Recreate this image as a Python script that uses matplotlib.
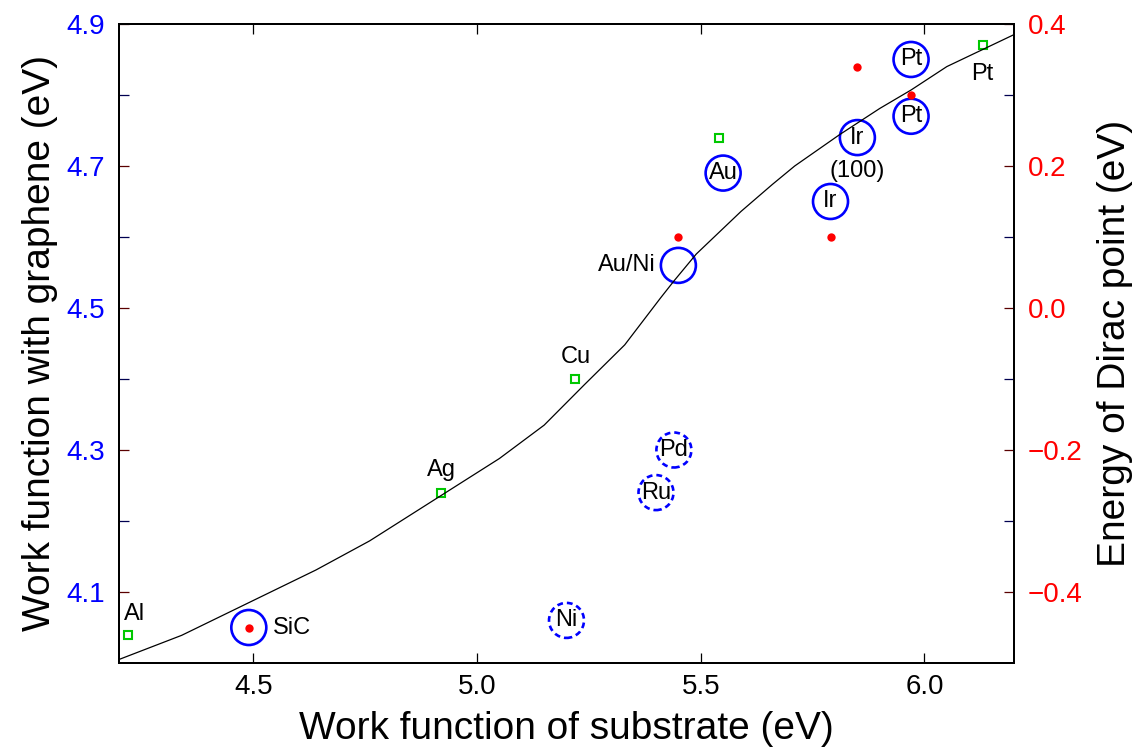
import numpy as np
import matplotlib
matplotlib.use("Agg")
import matplotlib.pyplot as plt
from matplotlib.ticker import FixedLocator

plt.rcParams["font.family"] = ["Liberation Sans", "DejaVu Sans"]

# graphene on substrate (solid circles), left axis
circ_names = ["SiC", "Au/Ni", "Au", "Ir", "Ir", "Pt", "Pt"]
circ_x = [4.49, 5.45, 5.55, 5.79, 5.85, 5.97, 5.97]
circ_y = [4.05, 4.56, 4.69, 4.65, 4.74, 4.85, 4.77]
circ_where = ["right", "left", "in", "in", "in", "in", "in"]

# dashed circles
dash_names = ["Ni", "Ru", "Pd"]
dash_x = [5.20, 5.40, 5.44]
dash_y = [4.06, 4.24, 4.30]

# open green squares
sq_names = ["Al", "Ag", "Cu", "Au", "Pt"]
sq_x = [4.22, 4.92, 5.22, 5.54, 6.13]
sq_y = [4.04, 4.24, 4.40, 4.74, 4.87]

# Dirac point energies, right axis
dirac_x = [4.49, 5.45, 5.79, 5.85, 5.97]
dirac_e = [-0.45, 0.10, 0.10, 0.34, 0.30]

# model curve
curve_x = [4.20, 4.34, 4.49, 4.64, 4.76, 4.93, 5.05, 5.15, 5.24, 5.33, 5.41,
           5.44, 5.49, 5.59, 5.66, 5.71, 5.81, 5.90, 5.97, 6.05, 6.20]
curve_y = [4.005, 4.039, 4.085, 4.131, 4.172, 4.240, 4.288, 4.335, 4.392, 4.448,
           4.514, 4.538, 4.576, 4.636, 4.674, 4.700, 4.744, 4.781, 4.807, 4.840,
           4.885]

blue = "#0000ff"
red = "#ff0000"
green = "#00c800"
major_c = "#5a0000"
minor_c = "#000050"

fig = plt.figure(figsize=(11.37, 7.49), dpi=100)
ax = fig.add_axes([0.1047, 0.1148, 0.7871, 0.8532])
ax2 = ax.twinx()

ax.scatter(circ_x, circ_y, s=635, facecolors="none", edgecolors=blue,
           linewidths=1.9, zorder=2)
ax.scatter(dash_x, dash_y, s=635, facecolors="none", edgecolors=blue,
           linewidths=1.9, linestyle=(0, (2.2, 1.5)), zorder=2)
ax.plot(sq_x, sq_y, ls="none", marker="s", ms=6.3, mfc="none", mec=green,
        mew=1.5, zorder=3)
ax.plot(curve_x, curve_y, color="black", lw=0.9, zorder=4,
        solid_joinstyle="round")
ax2.plot(dirac_x, dirac_e, ls="none", marker="o", ms=6, color=red, mec="none")

fs = 17
for n, x, y, w in zip(circ_names, circ_x, circ_y, circ_where):
    if w == "in":
        ax.annotate(n, (x, y), ha="center", va="center", fontsize=fs, zorder=5)
    elif w == "right":
        ax.annotate(n, (x, y), xytext=(17, 0), textcoords="offset points",
                    ha="left", va="center", fontsize=fs)
    else:
        ax.annotate(n, (x, y), xytext=(-16, 0), textcoords="offset points",
                    ha="right", va="center", fontsize=fs)
ax.annotate("(100)", (circ_x[4], circ_y[4]), xytext=(0, -24),
            textcoords="offset points", ha="center", va="center", fontsize=fs)

for n, x, y in zip(dash_names, dash_x, dash_y):
    ax.annotate(n, (x, y), ha="center", va="center", fontsize=fs)

sq_off = {"Al": (5, 15), "Ag": (0, 16.5), "Cu": (0, 16), "Pt": (0, -21)}
for n, x, y in zip(sq_names, sq_x, sq_y):
    if n in sq_off:
        ax.annotate(n, (x, y), xytext=sq_off[n], textcoords="offset points",
                    ha="center", va="center", fontsize=fs)

ax.set_xlim(4.2, 6.2)
ax.set_ylim(4.0, 4.9)
ax2.set_ylim(-0.5, 0.4)

ax.set_xticks([4.5, 5.0, 5.5, 6.0])
ax.set_xticklabels(["4.5", "5.0", "5.5", "6.0"])
ax.yaxis.set_major_locator(FixedLocator([4.1, 4.3, 4.5, 4.7, 4.9]))
ax.yaxis.set_minor_locator(FixedLocator([4.2, 4.4, 4.6, 4.8]))
ax.set_yticklabels(["4.1", "4.3", "4.5", "4.7", "4.9"])
ax2.yaxis.set_major_locator(FixedLocator([-0.4, -0.2, 0.0, 0.2, 0.4]))
ax2.yaxis.set_minor_locator(FixedLocator([-0.3, -0.1, 0.1, 0.3]))
ax2.set_yticklabels(["\u22120.4", "\u22120.2", "0.0", "0.2", "0.4"])

ax.tick_params(axis="x", which="major", direction="in", top=True, length=7,
               width=0.9, labelsize=20, pad=8)
ax.tick_params(axis="y", which="major", direction="in", length=7, width=0.9,
               color=major_c, labelcolor=blue, labelsize=20, pad=10)
ax.tick_params(axis="y", which="minor", direction="in", length=7, width=0.9,
               color=minor_c)
ax2.tick_params(axis="y", which="major", direction="in", length=7, width=0.9,
                color=major_c, labelcolor=red, labelsize=20, pad=10)
ax2.tick_params(axis="y", which="minor", direction="in", length=7, width=0.9,
                color=minor_c)

for a in (ax, ax2):
    for sp in a.spines.values():
        sp.set_linewidth(1.4)

ax.set_xlabel("Work function of substrate (eV)", fontsize=28, labelpad=8)
ax.set_ylabel("Work function with graphene (eV)", fontsize=28, labelpad=6)
ax2.set_ylabel("Energy of Dirac point (eV)", fontsize=28, labelpad=10)

fig.savefig("out.png", dpi=100)
